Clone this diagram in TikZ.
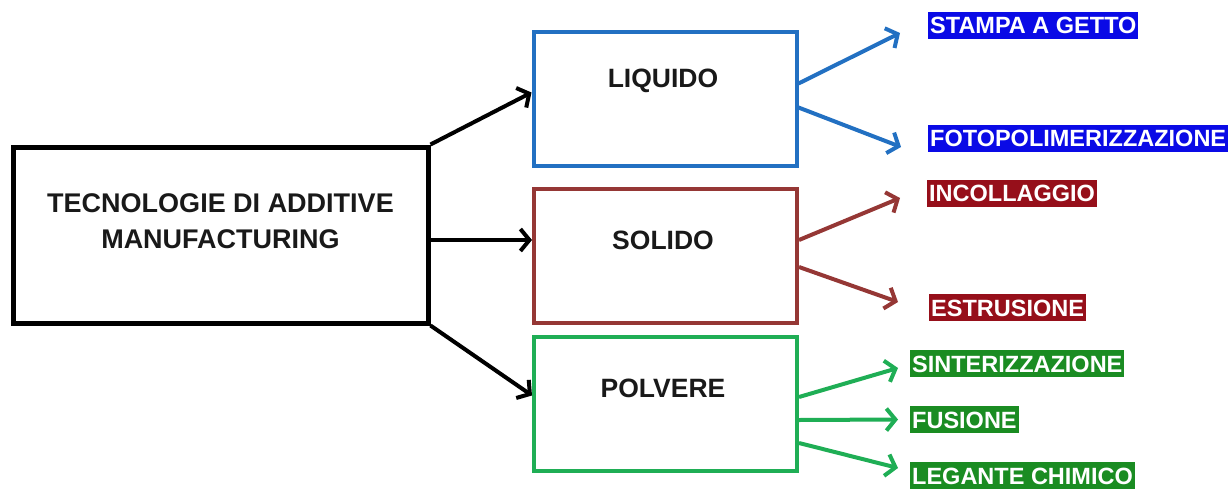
\documentclass[tikz,border=0pt]{standalone}
\usepackage{fontspec}
\setmainfont{Liberation Sans}
\usetikzlibrary{arrows.meta}
\definecolor{liqblue}{HTML}{2270C2}
\definecolor{solred}{HTML}{953735}
\definecolor{polgreen}{HTML}{1FAE55}
\definecolor{lblblue}{HTML}{0A0AE6}
\definecolor{lblred}{HTML}{960F1A}
\definecolor{lblgreen}{HTML}{1A8C22}
\tikzset{
  mainbox/.style={draw=black, line width=5pt, minimum width=415pt, minimum height=176pt, inner sep=0pt},
  catbox/.style={line width=4pt, minimum width=263pt, minimum height=134pt, inner sep=0pt, fill=white},
  boxtext/.style={font=\fontsize{26.5}{30}\selectfont\bfseries, inner sep=0pt, text=black!90},
  lbl/.style={anchor=west, text=white, font=\fontsize{23.5}{26}\selectfont\bfseries, inner xsep=2pt, inner ysep=5pt, text height=17pt, text depth=0pt},
  arr/.style={line width=4pt, -{Straight Barb[length=9pt,width=22pt,line width=4pt]}}
}
\begin{document}
\begin{tikzpicture}[x=1pt,y=-1pt]
\useasboundingbox (0,0) rectangle (1231,490);
% main
\node[mainbox] (main) at (220.5,235) {};
\node[boxtext, align=center, font=\fontsize{27}{36}\selectfont\bfseries] (maintxt) at (220.5,221) {TECNOLOGIE DI ADDITIVE\\MANUFACTURING};
% categories
\node[catbox, draw=liqblue] (liq) at (665,98.5) {};
\node[catbox, draw=solred] (sol) at (665.5,256) {};
\node[catbox, draw=polgreen] (pol) at (665.5,403.5) {};
\node[boxtext] (liqtxt) at (663,81) {LIQUIDO};
\node[boxtext] (soltxt) at (663,240) {SOLIDO};
\node[boxtext] (poltxt) at (663,388) {POLVERE};
% labels
\node[lbl, fill=lblblue] (stampa) at (928,25) {STAMPA A GETTO};
\node[lbl, fill=lblblue] (foto) at (928,138) {FOTOPOLIMERIZZAZIONE};
\node[lbl, fill=lblred] (incol) at (927,193) {INCOLLAGGIO};
\node[lbl, fill=lblred] (estr) at (929,307.5) {ESTRUSIONE};
\node[lbl, fill=lblgreen] (sinter) at (910,363.5) {SINTERIZZAZIONE};
\node[lbl, fill=lblgreen] (fus) at (910,419.5) {FUSIONE};
\node[lbl, fill=lblgreen] (leg) at (910,475.5) {LEGANTE CHIMICO};
% main arrows
\draw[arr, black] (main.north east) -- ([yshift=6pt]liq.west);
\draw[arr, black] (main.east |- soltxt) -- (sol.west |- soltxt);
\draw[arr, black] (main.south east) -- ([yshift=8pt]pol.west);
% blue
\draw[arr, liqblue] ([yshift=15pt]liq.east) -- ([xshift=-28pt,yshift=-8pt]stampa.west);
\draw[arr, liqblue] ([yshift=-9pt]liq.east) -- ([xshift=-27pt,yshift=-9pt]foto.west);
% red
\draw[arr, solred] ([yshift=16pt]sol.east) -- ([xshift=-27pt,yshift=-5pt]incol.west);
\draw[arr, solred] ([yshift=-11pt]sol.east) -- ([xshift=-31pt,yshift=5.5pt]estr.west);
% green
\draw[arr, polgreen] ([yshift=6.5pt]pol.east) -- ([xshift=-12pt,yshift=-4.5pt]sinter.west);
\draw[arr, polgreen] ([yshift=-16.5pt]pol.east) -- ([xshift=-12pt]fus.west);
\draw[arr, polgreen] ([yshift=-39.5pt]pol.east) -- ([xshift=-12pt,yshift=7.5pt]leg.west);
\end{tikzpicture}
\end{document}
